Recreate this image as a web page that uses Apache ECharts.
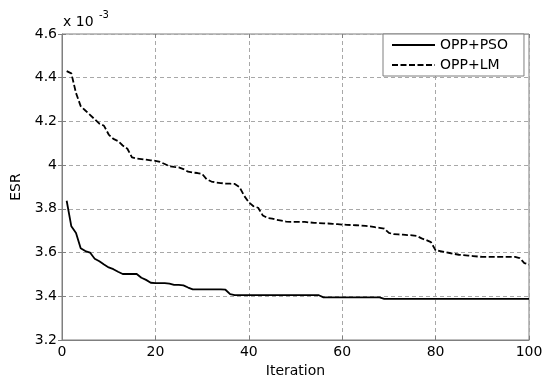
<!DOCTYPE html>
<html>
<head>
<meta charset="utf-8">
<script src="https://cdn.jsdelivr.net/npm/echarts@6/dist/echarts.min.js"></script>
<style>
html,body{margin:0;padding:0;background:#fff;}
#c{width:545px;height:376px;}
</style>
</head>
<body>
<div id="c"></div>
<script>
// Iterations 1..100
var iterations = [];
for (var i = 1; i <= 100; i++) iterations.push(i);

// ESR values (x 10^-3)
var psoValues = [
  3.837, 3.720, 3.690, 3.620, 3.607, 3.600, 3.572, 3.560, 3.545, 3.532,
  3.524, 3.512, 3.502, 3.502, 3.502, 3.502, 3.485, 3.475, 3.462, 3.460,
  3.460, 3.460, 3.458, 3.452, 3.452, 3.450, 3.440, 3.432, 3.432, 3.432,
  3.432, 3.432, 3.432, 3.432, 3.430, 3.410, 3.405, 3.405, 3.405, 3.405,
  3.405, 3.405, 3.405, 3.405, 3.405, 3.405, 3.405, 3.405, 3.405, 3.405,
  3.405, 3.405, 3.405, 3.405, 3.405, 3.395, 3.395, 3.395, 3.395, 3.395,
  3.395, 3.395, 3.395, 3.395, 3.395, 3.395, 3.395, 3.395, 3.388, 3.388,
  3.388, 3.388, 3.388, 3.388, 3.388, 3.388, 3.388, 3.388, 3.388, 3.388,
  3.388, 3.388, 3.388, 3.388, 3.388, 3.388, 3.388, 3.388, 3.388, 3.388,
  3.388, 3.388, 3.388, 3.388, 3.388, 3.388, 3.388, 3.388, 3.388, 3.388
];
var lmValues = [
  4.430, 4.420, 4.330, 4.270, 4.250, 4.230, 4.210, 4.190, 4.180, 4.140,
  4.120, 4.110, 4.090, 4.075, 4.035, 4.030, 4.028, 4.025, 4.022, 4.020,
  4.015, 4.005, 3.995, 3.992, 3.990, 3.982, 3.970, 3.966, 3.964, 3.960,
  3.935, 3.925, 3.920, 3.918, 3.916, 3.915, 3.914, 3.900, 3.860, 3.830,
  3.812, 3.805, 3.770, 3.758, 3.755, 3.750, 3.746, 3.742, 3.740, 3.740,
  3.740, 3.740, 3.738, 3.736, 3.735, 3.734, 3.733, 3.731, 3.730, 3.728,
  3.727, 3.726, 3.725, 3.724, 3.722, 3.720, 3.716, 3.713, 3.710, 3.690,
  3.684, 3.683, 3.682, 3.680, 3.679, 3.676, 3.665, 3.657, 3.648, 3.610,
  3.607, 3.602, 3.598, 3.594, 3.590, 3.588, 3.586, 3.584, 3.582, 3.580,
  3.580, 3.580, 3.580, 3.580, 3.580, 3.580, 3.580, 3.575, 3.552, 3.545
];
var seriesNames = ['OPP+PSO', 'OPP+LM'];
var xLabel = 'Iteration';
var yLabel = 'ESR';
var exponentBase = 'x 10';
var exponentPower = '-3';

function pairs(vals) {
  return vals.map(function (v, k) { return [iterations[k], v]; });
}

var FONT = 'DejaVu Sans';
var axisGray = '#7f7f7f';
var chart = echarts.init(document.getElementById('c'), null, {renderer: 'canvas'});
chart.setOption({
  animation: false,
  backgroundColor: '#fff',
  textStyle: {fontFamily: FONT},
  grid: {left: 62, top: 34, width: 467, height: 306, show: true,
         outerBoundsMode: 'none', containLabel: false,
         borderColor: axisGray, borderWidth: 1, backgroundColor: '#fff'},
  legend: {
    orient: 'vertical', left: 383, top: 34,
    data: seriesNames,
    itemWidth: 43, itemHeight: 10, itemGap: 6,
    padding: [4, 16, 4, 8],
    itemStyle: {opacity: 0},
    backgroundColor: '#fff', borderColor: axisGray, borderWidth: 1, borderRadius: 0,
    textStyle: {fontSize: 14, color: '#000', fontFamily: FONT}
  },
  graphic: [
    {type: 'text', left: 63, top: 15, style: {text: exponentBase, fontSize: 14, fontFamily: FONT, fill: '#000'}},
    {type: 'text', left: 99, top: 10, style: {text: exponentPower, fontSize: 10, fontFamily: FONT, fill: '#000'}}
  ],
  xAxis: [{
    type: 'value', min: 0, max: 100, interval: 20,
    name: xLabel, nameLocation: 'middle', nameGap: 20,
    nameTextStyle: {fontSize: 14, color: '#000', fontFamily: FONT},
    axisLine: {show: true, lineStyle: {color: axisGray, width: 1}},
    axisTick: {show: true, inside: true, length: 4, lineStyle: {color: axisGray}},
    axisLabel: {fontSize: 14, color: '#000', margin: 5, fontFamily: FONT},
    splitLine: {show: true, lineStyle: {color: '#a8a8a8', type: [4, 3], width: 1}}
  }, {
    type: 'value', position: 'top', min: 0, max: 100, interval: 20,
    axisLine: {show: false},
    axisTick: {show: true, inside: true, length: 4, lineStyle: {color: axisGray}},
    axisLabel: {show: false}, splitLine: {show: false}
  }],
  yAxis: [{
    type: 'value', min: 3.2, max: 4.6, interval: 0.2,
    name: yLabel, nameLocation: 'middle', nameGap: 37,
    nameTextStyle: {fontSize: 14, color: '#000', fontFamily: FONT},
    axisLine: {show: true, lineStyle: {color: axisGray, width: 1}},
    axisTick: {show: true, inside: true, length: 4, lineStyle: {color: axisGray}},
    axisLabel: {fontSize: 14, color: '#000', margin: 5, fontFamily: FONT},
    splitLine: {show: true, lineStyle: {color: '#a8a8a8', type: [4, 3], width: 1}}
  }, {
    type: 'value', position: 'right', min: 3.2, max: 4.6, interval: 0.2,
    axisLine: {show: false},
    axisTick: {show: true, inside: true, length: 4, lineStyle: {color: axisGray}},
    axisLabel: {show: false}, splitLine: {show: false}
  }],
  series: [{
    name: seriesNames[0], type: 'line', data: pairs(psoValues),
    showSymbol: false, symbol: 'none',
    lineStyle: {color: '#000', width: 1.8, type: 'solid'},
    itemStyle: {color: '#000'}
  }, {
    name: seriesNames[1], type: 'line', data: pairs(lmValues),
    showSymbol: false, symbol: 'none',
    lineStyle: {color: '#000', width: 1.8, type: [6, 2.5]},
    itemStyle: {color: '#000'}
  }]
});
</script>
</body>
</html>
